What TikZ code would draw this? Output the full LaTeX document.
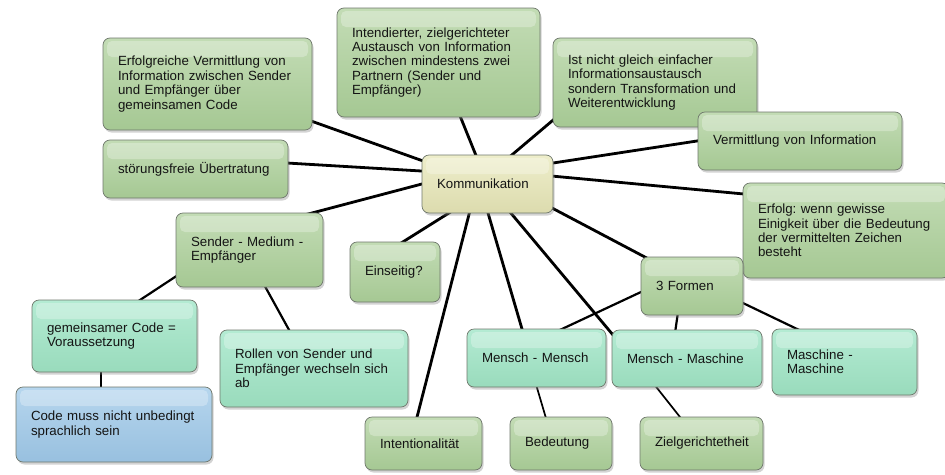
\documentclass[tikz,border=0pt]{standalone}
\usepackage{fontspec}
\setmainfont{Liberation Sans}
\usepackage{tikz}
\usetikzlibrary{calc,shadows}
\definecolor{leaftop}{HTML}{C3DCB5}
\definecolor{leafbot}{HTML}{A5C893}
\definecolor{minttop}{HTML}{B4EBD3}
\definecolor{mintbot}{HTML}{99DBBC}
\definecolor{bluetop}{HTML}{B6D6EE}
\definecolor{bluebot}{HTML}{98C0DF}
\definecolor{coretop}{HTML}{EEEECB}
\definecolor{corebot}{HTML}{DCDBAE}
\definecolor{rim}{HTML}{6F786C}
\hyphenpenalty=10000
\exhyphenpenalty=10000
\frenchspacing
\pgfdeclarelayer{background}
\pgfsetlayers{background,main}

\begin{document}
\begin{tikzpicture}[x=1pt,y=-1pt,
  card/.style={draw=rim, line width=0.7pt, rounded corners=7pt, inner xsep=15pt,
    align=left, font=\fontsize{13.3}{14.4}\selectfont, text=black!92,
    drop shadow={shadow xshift=1.5pt, shadow yshift=-2.5pt, opacity=0.35},
    path picture={\fill[white, opacity=0.28, rounded corners=5pt]
      ($(path picture bounding box.north west)+(4,3)$) rectangle
      ($(path picture bounding box.north east)+(-4,19)$);}},
  dims/.style 2 args={minimum width=#1pt, minimum height=#2pt, text width=#1pt-30pt},
  leaf/.style={card, top color=leaftop, bottom color=leafbot},
  mint/.style={card, top color=minttop, bottom color=mintbot},
  sky/.style={card, top color=bluetop, bottom color=bluebot},
  core/.style={card, top color=coretop, bottom color=corebot},
  branch/.style={line width=2.8pt},
  twig/.style={line width=2.2pt},
  thin twig/.style={line width=1.7pt}]
  \useasboundingbox (0,0) rectangle (945,474);

  % The centre
  \node[core, dims={131}{58}] (komm) at (487.5,184) {Kommunikation};

  % Upper ring
  \node[leaf, dims={209}{92}] (erfolgreich) at (207.5,84) {Erfolgreiche Vermittlung von\\Information zwischen Sender\\und Empfänger über\\gemeinsamen Code};
  \node[leaf, dims={203}{109}] (intendiert) at (438.5,62.5) {Intendierter, zielgerichteter\\Austausch von Information\\zwischen mindestens zwei\\Partnern (Sender und\\Empfänger)};
  \node[leaf, dims={204}{89}] (ist) at (655,82.5) {Ist nicht gleich einfacher\\Informationsaustausch\\sondern Transformation und\\Weiterentwicklung};
  \node[leaf, dims={204}{58}] (verm) at (800,141) {Vermittlung von Information};
  \node[leaf, dims={185}{58}] (stoer) at (195.5,169) {störungsfreie Übertratung};
  \node[leaf, dims={206}{95}] (erfolg) at (846,230.5) {Erfolg: wenn gewisse\\Einigkeit über die Bedeutung\\der vermittelten Zeichen\\besteht};

  % Left side
  \node[leaf, dims={147}{74}] (sender) at (249.5,250) {Sender - Medium -\\Empfänger};
  \node[leaf, dims={90}{60}] (einseitig) at (395,272) {Einseitig?};
  \node[mint, dims={165}{72}] (gemein) at (114.5,336) {gemeinsamer Code =\\Voraussetzung};
  \node[sky, dims={196}{75}] (codemuss) at (114,424.5) {Code muss nicht unbedingt\\sprachlich sein};
  \node[mint, dims={188}{77}] (rollen) at (314,368.5) {Rollen von Sender und\\Empfänger wechseln sich\\ab};

  % Right side
  \node[leaf, dims={102}{58}] (formen) at (692,286) {3 Formen};
  \node[mint, dims={139}{58}] (mm) at (536.5,358) {Mensch - Mensch};
  \node[mint, dims={150}{57}] (mma) at (687,358.5) {Mensch - Maschine};
  \node[mint, dims={145}{66}] (mama) at (844.5,362) {Maschine -\\Maschine};

  % Bottom row
  \node[leaf, dims={117}{53}] (intent) at (423.5,443.5) {Intentionalität};
  \node[leaf, dims={102}{53}] (bedeut) at (561,443.5) {Bedeutung};
  \node[leaf, dims={123}{53}] (ziel) at (701.5,443.5) {Zielgerichtetheit};

  \begin{pgfonlayer}{background}
    % Branches from the centre
    \draw[branch] (komm.center) -- (erfolgreich.center);
    \draw[branch] (komm.center) -- (intendiert.center);
    \draw[branch] ($(komm.center)+(-10,0)$) -- ($(ist.center)+(-90,27.5)$);
    \draw[branch] ($(komm.center)+(52.5,-19)$) -- ($(verm.center)+(-90,-2)$);
    \draw[branch] ($(komm.center)+(-27.5,-10.7)$) -- ($(stoer.center)+(74.5,-7)$);
    \draw[branch] ($(komm.center)+(-50.5,-4)$) -- ($(sender.center)+(43.5,-32)$);
    \draw[branch] ($(komm.center)+(-25.8,21)$) -- ($(einseitig.center)+(-5,-22)$);
    \draw[branch] ($(komm.center)+(42.5,-10)$) -- ($(erfolg.center)+(-86,-35)$);
    \draw[branch] ($(komm.center)+(42.5,12.4)$) -- ($(formen.center)+(-32,-21)$);
    \draw[branch] ($(komm.center)+(-3.3,16)$) -- ($(mm.center)+(-9.8,-13)$);
    \draw[branch] ($(komm.center)+(12.4,16)$) -- ($(mma.center)+(-65.6,-13.5)$);
    \draw[branch] ($(komm.center)+(-14.8,16)$) -- ($(intent.center)+(-9.8,-13.5)$);

    % Sub-branches
    \draw[twig] ($(formen.center)+(-32,-2.9)$) -- ($(mm.center)+(13.5,-23.4)$);
    \draw[twig] ($(formen.center)+(-13,19)$) -- ($(mma.center)+(-13,-18.5)$);
    \draw[twig] ($(formen.center)+(38,10.8)$) -- ($(mama.center)+(-39.5,-29.2)$);
    \draw[thin twig] ($(mm.center)+(-1.5,23)$) -- ($(bedeut.center)+(-13,-18.5)$);
    \draw[thin twig] ($(mma.center)+(-36.3,21.5)$) -- ($(ziel.center)+(-15.2,-18.5)$);
    \draw[twig] ($(sender.center)+(-59.5,17.1)$) -- ($(gemein.center)+(10.5,-26.1)$);
    \draw[twig] ($(sender.center)+(12,30)$) -- ($(rollen.center)+(-19.4,-28.5)$);
    \draw[twig] ($(gemein.center)+(-13.5,29)$) -- ($(codemuss.center)+(-13,-29.5)$);
  \end{pgfonlayer}
\end{tikzpicture}
\end{document}
